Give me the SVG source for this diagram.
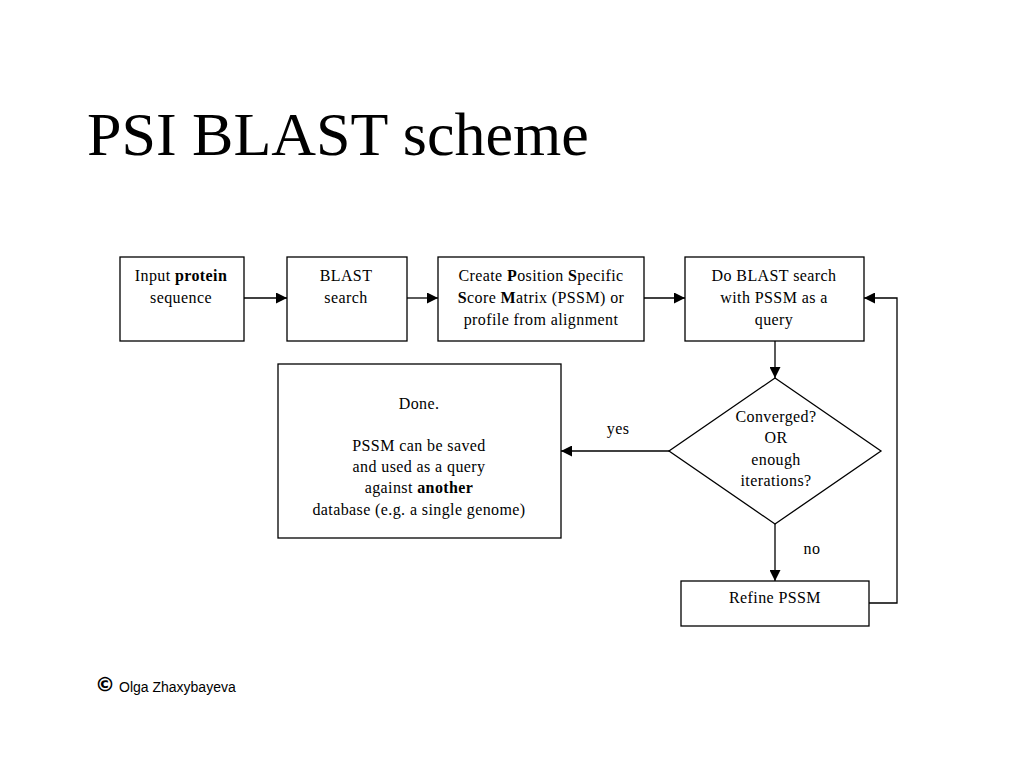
<svg xmlns="http://www.w3.org/2000/svg" width="1024" height="768" viewBox="0 0 1024 768">
<style>
.b{fill:#fff;stroke:#000;stroke-width:1.3}
.t{font-family:"Liberation Serif",serif;font-size:16px;letter-spacing:0.4px;fill:#000;text-anchor:middle}
.c{fill:none;stroke:#000;stroke-width:1.3}
</style>
<defs><marker id="a" viewBox="0 0 10 10" refX="10" refY="5" markerWidth="11" markerHeight="11" markerUnits="userSpaceOnUse" orient="auto"><path d="M0,0L10,5L0,10z" fill="#000"/></marker></defs>
<rect width="1024" height="768" fill="#fff"/>
<text x="87" y="155" style="font-family:'Liberation Serif',serif;font-size:62px">PSI BLAST scheme</text>
<g id="n1"><rect class="b" x="120" y="257" width="124" height="84"/><text class="t" x="181" y="281">Input <tspan font-weight="bold">protein</tspan></text><text class="t" x="181" y="303">sequence</text></g>
<g id="n2"><rect class="b" x="287" y="257" width="120" height="84"/><text class="t" x="346" y="281">BLAST</text><text class="t" x="346" y="303">search</text></g>
<g id="n3"><rect class="b" x="438" y="257" width="206" height="84"/><text class="t" x="541" y="281">Create <tspan font-weight="bold">P</tspan>osition <tspan font-weight="bold">S</tspan>pecific</text><text class="t" x="541" y="303"><tspan font-weight="bold">S</tspan>core <tspan font-weight="bold">M</tspan>atrix (PSSM) or</text><text class="t" x="541" y="325">profile from alignment</text></g>
<g id="n4"><rect class="b" x="685" y="257" width="179" height="84"/><text class="t" x="774" y="281">Do BLAST search</text><text class="t" x="774" y="303">with PSSM as a</text><text class="t" x="774" y="325">query</text></g>
<g id="n5"><rect class="b" x="278" y="364" width="283" height="174"/><text class="t" x="419" y="409">Done.</text><text class="t" x="419" y="451">PSSM can be saved</text><text class="t" x="419" y="472">and used as a query</text><text class="t" x="419" y="493">against <tspan font-weight="bold">another</tspan></text><text class="t" x="419" y="515">database (e.g. a single genome)</text></g>
<g id="n6"><polygon class="b" points="775,378 881,451 775,524 669,451"/><text class="t" x="776" y="422">Converged?</text><text class="t" x="776" y="443">OR</text><text class="t" x="776" y="465">enough</text><text class="t" x="776" y="486">iterations?</text></g>
<g id="n7"><rect class="b" x="681" y="581" width="188" height="45"/><text class="t" x="775" y="603">Refine PSSM</text></g>
<g id="connectors">
<path class="c" d="M244,298H287" marker-end="url(#a)"/>
<path class="c" d="M407,298H438" marker-end="url(#a)"/>
<path class="c" d="M644,298H685" marker-end="url(#a)"/>
<path class="c" d="M775,341V378" marker-end="url(#a)"/>
<path class="c" d="M669,451H561" marker-end="url(#a)"/>
<path class="c" d="M775,524V581" marker-end="url(#a)"/>
<path class="c" d="M869,603H897V298H864" marker-end="url(#a)"/>
<text class="t" x="618" y="434">yes</text>
<text class="t" x="812" y="554">no</text>
</g>
<text x="95" y="691" style="font-family:'DejaVu Sans',sans-serif;font-size:20px;font-weight:bold">©</text>
<text x="119" y="692" style="font-family:'Liberation Sans',sans-serif;font-size:14px">Olga Zhaxybayeva</text>
</svg>
